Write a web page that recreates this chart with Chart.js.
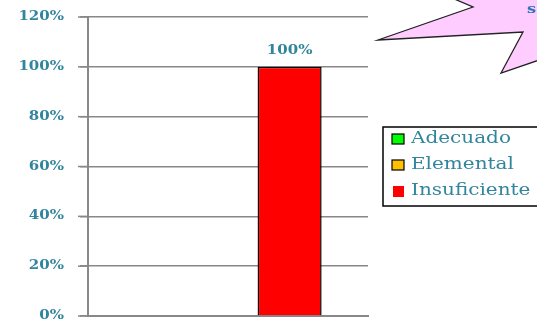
<!DOCTYPE html>
<html>
<head>
<meta charset="utf-8">
<script src="https://cdn.jsdelivr.net/npm/chart.js@4.4.7/dist/chart.umd.min.js"></script>
<style>
  html, body { margin: 0; padding: 0; background: #fff; }
  #wrap { position: relative; width: 537px; height: 325px; overflow: hidden; }
</style>
</head>
<body>
<div id="wrap"><canvas id="chart" width="537" height="325"></canvas></div>
<script>
// chart data
const categories = [''];
const seriesNames = ['Adecuado', 'Elemental', 'Insuficiente'];
const adecuado = [0];
const elemental = [0];
const insuficiente = [1.0];
const yTicks = [0, 0.2, 0.4, 0.6, 0.8, 1.0, 1.2];

const seriesColors = ['#00FF00', '#FFC000', '#FF0000'];
const textColor = '#31859C';
const serif = '"DejaVu Serif", "Liberation Serif", serif';
const pct = v => Math.round(v * 100) + '%';

// the reference font is wide, so stretch text sideways a bit
function wideText(ctx, text, x, y, align) {
    const sx = 1.25;
    const w = ctx.measureText(text).width * sx;
    let left = x;
    if (align === 'right') left = x - w;
    if (align === 'center') left = x - w / 2;
    ctx.save();
    ctx.translate(left, y);
    ctx.scale(sx, 1);
    ctx.textAlign = 'left';
    ctx.fillText(text, 0, 0);
    ctx.restore();
}

// pink burst shape in the corner (decoration, partly cut off)
const burstPlugin = {
    id: 'burst',
    beforeDraw(chart) {
        const ctx = chart.ctx;
        ctx.save();
        ctx.beginPath();
        ctx.moveTo(452, -2);
        ctx.lineTo(473, 7);
        ctx.lineTo(378, 40);
        ctx.lineTo(523, 32);
        ctx.lineTo(501, 73);
        ctx.lineTo(545, 58);
        ctx.lineTo(545, -2);
        ctx.closePath();
        ctx.fillStyle = '#FFCCFF';
        ctx.fill();
        ctx.strokeStyle = '#222';
        ctx.lineWidth = 1.3;
        ctx.stroke();
        ctx.fillStyle = '#2E75B6';
        ctx.font = 'bold 13px ' + serif;
        ctx.textBaseline = 'middle';
        wideText(ctx, 's', 527, 10, 'left');
        ctx.restore();
    }
};

// y tick marks + labels, and value labels above non-zero bars
const labelPlugin = {
    id: 'valueLabels',
    afterDatasetsDraw(chart) {
        const ctx = chart.ctx;
        const ys = chart.scales.y;
        const left = chart.chartArea.left;
        ctx.save();
        ctx.strokeStyle = '#888';
        ctx.lineWidth = 1.5;
        yTicks.forEach(v => {
            const y = ys.getPixelForValue(v);
            ctx.beginPath();
            ctx.moveTo(left - 10, y);
            ctx.lineTo(left, y);
            ctx.stroke();
        });
        ctx.fillStyle = textColor;
        ctx.font = 'bold 12px ' + serif;
        ctx.textBaseline = 'middle';
        yTicks.forEach(v => {
            wideText(ctx, pct(v), 64, ys.getPixelForValue(v), 'right');
        });
        chart.data.datasets.forEach((ds, i) => {
            const meta = chart.getDatasetMeta(i);
            meta.data.forEach((bar, j) => {
                const v = ds.data[j];
                if (!v) return;
                wideText(ctx, pct(v), bar.x, bar.y - 16, 'center');
            });
        });
        ctx.restore();
    }
};

// boxed legend on the right
const legendPlugin = {
    id: 'boxLegend',
    afterDraw(chart) {
        const ctx = chart.ctx;
        ctx.save();
        ctx.strokeStyle = '#000';
        ctx.lineWidth = 1.5;
        ctx.strokeRect(383, 127, 170, 79);
        ctx.font = '16px ' + serif;
        ctx.textBaseline = 'middle';
        chart.data.datasets.forEach((ds, i) => {
            const y = 139 + i * 26;
            ctx.fillStyle = ds.backgroundColor;
            if (i < 2) {
                ctx.fillRect(392, y - 5, 12, 10);
                ctx.strokeStyle = '#000';
                ctx.lineWidth = 1.2;
                ctx.strokeRect(392, y - 5, 12, 10);
            } else {
                ctx.fillRect(393, y - 5, 11, 11);
            }
            ctx.fillStyle = textColor;
            wideText(ctx, ds.label, 411, y, 'left');
        });
        ctx.restore();
    }
};

const datasets = [adecuado, elemental, insuficiente].map((vals, i) => ({
    label: seriesNames[i],
    data: vals,
    backgroundColor: seriesColors[i],
    borderColor: '#000',
    borderWidth: 1.5,
    categoryPercentage: 0.66,
    barPercentage: 1.04
}));

new Chart(document.getElementById('chart'), {
    type: 'bar',
    data: { labels: categories, datasets: datasets },
    options: {
        responsive: false,
        animation: false,
        layout: { padding: { top: 17, right: 169, left: 0, bottom: 0 } },
        plugins: {
            legend: { display: false },
            tooltip: { enabled: false }
        },
        scales: {
            x: {
                grid: { display: false },
                border: { display: true, color: '#888', width: 2 },
                ticks: { display: false },
                afterFit(scale) { scale.height = 9; }
            },
            y: {
                min: 0,
                max: 1.2,
                afterBuildTicks(scale) { scale.ticks = yTicks.map(v => ({ value: v })); },
                afterFit(scale) { scale.width = 88; },
                grid: { color: '#888', lineWidth: 1.5 },
                border: { display: true, color: '#888', width: 2 },
                ticks: { display: false }
            }
        }
    },
    plugins: [burstPlugin, labelPlugin, legendPlugin]
});
</script>
</body>
</html>
